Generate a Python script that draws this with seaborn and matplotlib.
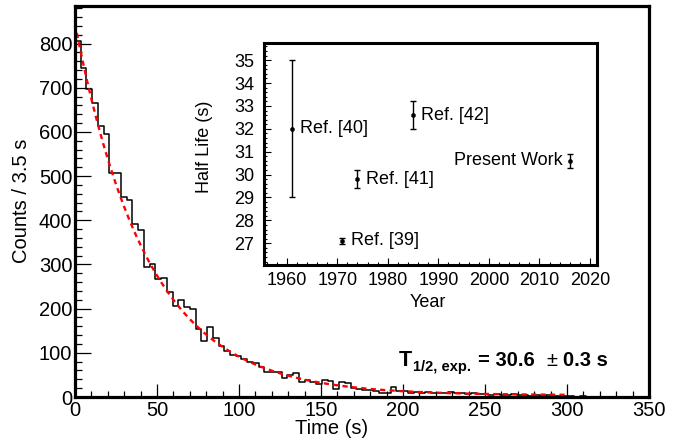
import numpy as np
import pandas as pd
import matplotlib
matplotlib.use("Agg")
import matplotlib.pyplot as plt
import seaborn as sns
from matplotlib.ticker import MultipleLocator

# Decay-time histogram: counts per 3.5 s bin, starting at t = 0 s
bin_width = 3.5
counts = [805, 745, 697, 665, 614, 596, 507, 507, 453, 445,
          392, 378, 295, 301, 267, 270, 238, 207, 220, 204,
          200, 154, 127, 159, 133, 115, 105, 96, 93, 86,
          80, 76, 69, 57, 57, 57, 44, 50, 55, 35,
          38, 33, 29, 39, 37, 18, 34, 32, 20, 19,
          16, 16, 13, 10, 8, 22, 14, 13, 10, 12,
          9, 11, 8, 10, 9, 11, 8, 9, 7, 8,
          6, 7, 5, 6, 5, 4, 6, 4, 5, 3,
          4, 3, 4, 2, 3, 2, 2, 1, 2, 1,
          1, 0, 1, 1, 0, 1, 0, 0, 1, 0]

# Exponential fit (amplitude per bin, flat background, half-life in s)
half_life = 30.6
half_life_err = 0.3
fit_amplitude = 841
fit_background = 4
fit_range = (0, 300)

# Half-life measurements over the years
years = [1971, 1961, 1974, 1985, 2016]
half_lives = [27.1, 32.0, 29.8, 32.6, 30.6]
half_life_errors = [0.12, 3.0, 0.4, 0.6, 0.3]
ref_labels = ["Ref. [39]", "Ref. [40]", "Ref. [41]", "Ref. [42]", "Present Work"]

sns.set_style("white")
plt.rcParams["font.family"] = ["Liberation Sans", "DejaVu Sans"]
plt.rcParams.update({
    "text.color": "black",
    "axes.labelcolor": "black",
    "xtick.color": "black",
    "ytick.color": "black",
})

W, H = 683, 444
fig = plt.figure(figsize=(W / 100, H / 100), dpi=100)


def fx(px):
    return px / W


def fy(py):
    return 1 - py / H


# ---------------- main histogram ----------------
ax = fig.add_axes([fx(75), fy(397), fx(649) - fx(75), fy(6) - fy(397)])

n_bins = len(counts)
centers = (np.arange(n_bins) + 0.5) * bin_width
hist_df = pd.DataFrame({"t": centers, "n": counts})
sns.histplot(data=hist_df, x="t", weights="n", binwidth=bin_width,
             binrange=(0, n_bins * bin_width), element="step",
             fill=False, color="black", linewidth=1.1, ax=ax)

t_fit = np.linspace(fit_range[0], fit_range[1], 600)
fit_df = pd.DataFrame({
    "t": t_fit,
    "n": fit_amplitude * np.exp(-np.log(2) * t_fit / half_life) + fit_background,
})
sns.lineplot(data=fit_df, x="t", y="n", color="red", linewidth=1.7, ax=ax)
ax.lines[-1].set_dashes([2.2, 1.8])

ax.set_xlim(0, 350)
ax.set_ylim(0, 885)
ax.set_xlabel("")
ax.set_ylabel("")
ax.xaxis.set_major_locator(MultipleLocator(50))
ax.xaxis.set_minor_locator(MultipleLocator(10))
ax.yaxis.set_major_locator(MultipleLocator(100))
ax.yaxis.set_minor_locator(MultipleLocator(20))
ax.tick_params(axis="both", which="both", direction="in", width=0.9,
               labelsize=14.5, color="black", bottom=True, left=True,
               top=False, right=False)
ax.tick_params(axis="y", which="major", length=11.3, pad=2)
ax.tick_params(axis="y", which="minor", length=4.8)
ax.tick_params(axis="x", which="major", length=9.1, pad=3)
ax.tick_params(axis="x", which="minor", length=4.3)
for s in ax.spines.values():
    s.set_linewidth(2.3)
    s.set_color("black")

fig.text(fx(332), fy(428), "Time (s)", ha="center", va="center", fontsize=14.5)
fig.text(fx(22), fy(201), "Counts / 3.5 s", ha="center", va="center",
         rotation=90, fontsize=14.5)

# Half-life result
fig.text(fx(399), fy(366.3), "T", ha="left", va="baseline", fontsize=15.5,
         fontweight="bold")
fig.text(fx(413), fy(371.5), "1/2, exp.", ha="left", va="baseline",
         fontsize=10.5, fontweight="bold")
fig.text(fx(478), fy(366.3), f"= {half_life}", ha="left", va="baseline",
         fontsize=14.5, fontweight="bold")
fig.text(fx(546), fy(366.3), "\u00b1", ha="left", va="baseline", fontsize=14.5)
fig.text(fx(563), fy(366.3), f"{half_life_err} s", ha="left", va="baseline",
         fontsize=14.5, fontweight="bold")

# ---------------- inset: history of measurements ----------------
ins = fig.add_axes([fx(264), fy(265), fx(597) - fx(264), fy(43) - fy(265)])
ins.errorbar(years, half_lives, yerr=half_life_errors, fmt="none",
             ecolor="black", elinewidth=1.0, capsize=2.2, capthick=1.0)
sns.scatterplot(x=years, y=half_lives, color="black", s=9, edgecolor="black",
                linewidth=0.3, ax=ins, zorder=3)
for yr, hl, lab in zip(years, half_lives, ref_labels):
    if lab == "Present Work":
        ins.annotate(lab, (yr, hl), xytext=(-5, 0), textcoords="offset points",
                     ha="right", va="center", fontsize=13)
    else:
        ins.annotate(lab, (yr, hl), xytext=(6, 0), textcoords="offset points",
                     ha="left", va="center", fontsize=13)

ins.set_xlim(1955.5, 2021.4)
ins.set_ylim(26.05, 35.75)
ins.xaxis.set_major_locator(MultipleLocator(10))
ins.xaxis.set_minor_locator(MultipleLocator(2))
ins.yaxis.set_major_locator(MultipleLocator(1))
ins.yaxis.set_minor_locator(MultipleLocator(0.2))
ins.tick_params(axis="both", which="both", direction="in", width=0.8,
                labelsize=13, color="black", bottom=True, left=True,
                top=False, right=False)
ins.tick_params(axis="both", which="major", length=5)
ins.tick_params(axis="both", which="minor", length=2.4)
ins.tick_params(axis="y", which="major", pad=7)
ins.tick_params(axis="x", which="major", pad=5)
for s in ins.spines.values():
    s.set_linewidth(2.2)
    s.set_color("black")

fig.text(fx(204.5), fy(147), "Half Life (s)", ha="center", va="center",
         rotation=90, fontsize=13)
fig.text(fx(428), fy(302), "Year", ha="center", va="center", fontsize=13)

fig.savefig("out.png", dpi=100)
